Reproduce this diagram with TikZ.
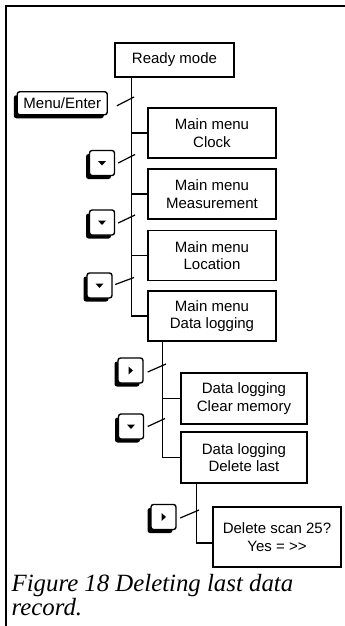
\documentclass[tikz,border=0pt]{standalone}
\usepackage{fontspec}
\setmainfont{Liberation Sans}
\newfontfamily\capfont{Liberation Serif}
\usetikzlibrary{shadows,calc}
\newcommand\dntri[1]{\fill ([shift={(-4,-2)}]#1.center) -- ++(8,0) -- ++(-4,4.5) -- cycle;}
\newcommand\rttri[1]{\fill ([shift={(-2,-4)}]#1.center) -- ++(0,8) -- ++(4.5,-4) -- cycle;}
\begin{document}
\begin{tikzpicture}[x=1pt,y=-1pt,
 box/.style={draw, line width=1.2pt, align=center, inner sep=0pt,
   font=\fontsize{15}{17.5}\selectfont, minimum width=128pt, minimum height=50pt},
 key/.style={draw, line width=1.4pt, fill=white, rounded corners=2.5pt, inner sep=0pt,
   minimum width=25pt, minimum height=25pt,
   drop shadow={shadow xshift=-3.5pt, shadow yshift=-3.5pt, opacity=1, fill=black}},
 trunk/.style={line width=1.7pt},
 tick/.style={line width=1.2pt},
 frame/.style={line width=2pt},
 caption/.style={anchor=base west, inner sep=0pt, font=\capfont\itshape\fontsize{24.8}{24}\selectfont}
]
\useasboundingbox (0,0) rectangle (345,626);
% frame
\draw[frame] (6,626) -- (6,6.5) -- (345,6.5);

% boxes
\node[box, minimum width=119pt, minimum height=34pt] (ready) at (174.5,60) {Ready mode};
\node[box] (clock) at (212,133) {Main menu\\Clock};
\node[box] (meas) at (212,194) {Main menu\\Measurement};
\node[box] (loc) at (212,255.5) {Main menu\\Location};
\node[box] (dlog) at (212,316) {Main menu\\Data logging};
\node[box, minimum width=126pt, minimum height=51pt] (clear) at (244,398.5) {Data logging\\Clear memory};
\node[box, minimum width=126pt, minimum height=51pt] (dlast) at (244,457.5) {Data logging\\Delete last};
\node[box, minimum width=128pt, minimum height=60pt] (scan) at (277,537) {Delete scan 25?\\Yes = >{}>};

% keys
\node[key, minimum width=90pt, minimum height=23pt, font=\fontsize{15}{17.5}\selectfont] (menu) at (62.25,103.25) {Menu/Enter};
\node[key] (d1) at (102,163) {};
\node[key] (d2) at (102,222.5) {};
\node[key] (d3) at (99.5,285.5) {};
\node[key] (r1) at (130.5,370.5) {};
\node[key] (d4) at (131,426.5) {};
\node[key] (r2) at (163.5,517) {};
\dntri{d1}
\dntri{d2}
\dntri{d3}
\rttri{r1}
\dntri{d4}
\rttri{r2}

% trunks
\coordinate (tr1) at ([xshift=17pt]ready.south west);
\coordinate (tr2) at ([xshift=15pt]dlog.south west);
\coordinate (tr3) at ([xshift=16pt]dlast.south west);
\draw[trunk] (tr1) |- (dlog.west);
\draw[trunk] (clock.west) -- (clock.west -| tr1);
\draw[trunk] (meas.west) -- (meas.west -| tr1);
\draw[trunk] (loc.west) -- (loc.west -| tr1);
\draw[trunk] (tr2) |- (dlast.west);
\draw[trunk] (clear.west) -- (clear.west -| tr2);
\draw[trunk] (tr3) |- ([yshift=-6pt]scan.west);

% switch ticks
\coordinate (t1) at (134,97);
\coordinate (t2) at (135,154.5);
\coordinate (t3) at (135,215);
\coordinate (t4) at (134,277.5);
\coordinate (t5) at (166,364);
\coordinate (t6) at (165,418.5);
\coordinate (t7) at (199,510);
\draw[tick] ([shift={(9,2.5)}]menu.east) -- (t1);
\draw[tick] ([shift={(3,0)}]d1.east) -- (t2);
\draw[tick] ([shift={(3,0.5)}]d2.east) -- (t3);
\draw[tick] ([shift={(2.5,-1)}]d3.east) -- (t4);
\draw[tick] ([shift={(4,1.5)}]r1.east) -- (t5);
\draw[tick] ([shift={(3.5,0)}]d4.east) -- (t6);
\draw[tick] ([shift={(3.5,1)}]r2.east) -- (t7);

% caption
\node[caption] (cap1) at (11.5,591) {Figure 18 Deleting last data};
\node[caption] (cap2) at (11.5,615) {record.};
\end{tikzpicture}
\end{document}
